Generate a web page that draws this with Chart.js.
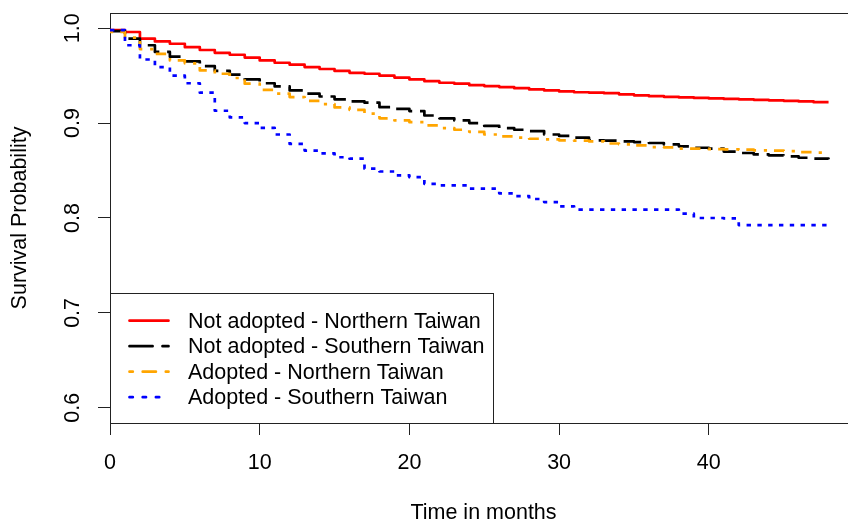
<!DOCTYPE html>
<html><head><meta charset="utf-8">
<script src="https://cdn.jsdelivr.net/npm/chart.js@4"></script>
<style>
html,body{margin:0;padding:0;overflow:hidden;background:#fff;width:848px;height:526px}
#wrap{width:860px;height:526px}
</style></head>
<body><div id="wrap"><canvas id="c" width="860" height="526"></canvas></div>
<script>
const months = [0,1,2,3,4,5,6,7,8,9,10,11,12,13,14,15,16,17,18,19,20,21,22,23,24,25,26,27,28,29,30,31,32,33,34,35,36,37,38,39,40,41,42,43,44,45,46,47,48];
const notAdoptedNorth = [0.998,0.996,0.989,0.986,0.9836,0.980,0.977,0.974,0.972,0.969,0.966,0.9636,0.9615,0.959,0.957,0.955,0.953,0.952,0.950,0.948,0.946,0.9442,0.9425,0.9415,0.940,0.939,0.938,0.9368,0.9355,0.9344,0.9334,0.9325,0.932,0.9315,0.9303,0.9293,0.9284,0.9277,0.927,0.9265,0.926,0.9255,0.925,0.9245,0.924,0.9235,0.9228,0.922,0.922];
const notAdoptedSouth = [0.997,0.989,0.982,0.975,0.970,0.965,0.960,0.955,0.951,0.946,0.942,0.9386,0.9344,0.931,0.928,0.925,0.9228,0.9215,0.9168,0.915,0.9127,0.908,0.905,0.9028,0.900,0.897,0.8947,0.893,0.8916,0.888,0.8865,0.8846,0.8818,0.8815,0.8807,0.880,0.879,0.8775,0.8755,0.874,0.873,0.870,0.8685,0.867,0.866,0.865,0.8635,0.8625,0.862];
const adoptedNorth = [0.996,0.990,0.978,0.973,0.966,0.963,0.9555,0.952,0.9475,0.9415,0.935,0.931,0.9274,0.9235,0.920,0.9165,0.914,0.910,0.905,0.9028,0.901,0.8976,0.8947,0.893,0.8908,0.888,0.886,0.8846,0.8835,0.8828,0.8818,0.8815,0.8807,0.8785,0.8776,0.8765,0.8747,0.8745,0.873,0.873,0.8725,0.8723,0.872,0.8713,0.871,0.8705,0.8695,0.8688,0.8685];
const adoptedSouth = [0.998,0.982,0.967,0.959,0.950,0.942,0.932,0.913,0.906,0.900,0.895,0.888,0.878,0.871,0.868,0.864,0.8625,0.852,0.849,0.845,0.843,0.836,0.8344,0.8344,0.831,0.831,0.826,0.823,0.820,0.8168,0.8123,0.8088,0.8088,0.8088,0.8088,0.8088,0.8088,0.8088,0.8046,0.800,0.800,0.7995,0.7925,0.7925,0.7925,0.7925,0.7925,0.7925,0.7925];
const seriesLabels = ['Not adopted - Northern Taiwan','Not adopted - Southern Taiwan','Adopted - Northern Taiwan','Adopted - Southern Taiwan'];
const xTickValues = [0,10,20,30,40];
const yTickLabels = ['0.6','0.7','0.8','0.9','1.0'];
const xTitle = 'Time in months';
const yTitle = 'Survival Probability';

const FONT = "'Liberation Sans', Arial, sans-serif";
const FS = 21.5;
const seriesValues = [notAdoptedNorth, notAdoptedSouth, adoptedNorth, adoptedSouth];
const seriesColors = ['#FF0000','#000000','#FFA500','#0000FF'];
// dash patterns (solid, long dash, dot-dash, dotted)
const plotDash = [[], [18.2,7.8], [3.2,7.2,10.4,7.8], [4.4,6.4]];
const legendDash = [[], [23.1,9.9], [3.3,9.9,13.2,9.9], [3.3,9.9]];
const LW = 2.7;

const datasets = seriesValues.map((vals, k) => ({
  label: seriesLabels[k],
  data: months.map((m, i) => ({x: m, y: vals[i]})),
  borderColor: seriesColors[k],
  backgroundColor: seriesColors[k],
  borderWidth: LW,
  borderDash: plotDash[k],
  borderCapStyle: 'butt',
  borderJoinStyle: 'round',
  stepped: true,
  pointRadius: 0,
  fill: false,
  order: 4 - k
}));

const frame = {
  id: 'frame',
  afterDraw(chart) {
    const ctx = chart.ctx, a = chart.chartArea;
    ctx.save();
    ctx.strokeStyle = '#222'; ctx.lineWidth = 1;
    ctx.beginPath();
    ctx.moveTo(Math.round(a.left) + 0.5, Math.round(a.top) + 0.5);
    ctx.lineTo(Math.round(a.right) + 0.5, Math.round(a.top) + 0.5);
    ctx.lineTo(Math.round(a.right) + 0.5, Math.round(a.bottom) + 0.5);
    ctx.stroke();
    const ys = chart.scales.y;
    ctx.fillStyle = '#000';
    ctx.font = FS + 'px ' + FONT;
    ctx.textAlign = 'center'; ctx.textBaseline = 'middle';
    yTickLabels.forEach(lbl => {
      const py = ys.getPixelForValue(parseFloat(lbl));
      ctx.save();
      ctx.translate(73, py);
      ctx.rotate(-Math.PI / 2);
      ctx.fillText(lbl, 0, 0);
      ctx.restore();
    });
    const L = a.left, B = a.bottom, W = 383, H = 130, T = B - H;
    ctx.fillStyle = '#fff';
    ctx.fillRect(L + 1, T + 1, W - 1, H - 1);
    ctx.strokeStyle = '#222'; ctx.lineWidth = 1;
    ctx.strokeRect(Math.round(L) + 0.5, Math.round(T) + 0.5, W, H);
    seriesLabels.forEach((lbl, k) => {
      const y = T + 27.7 + k * 25.5;
      ctx.save();
      ctx.strokeStyle = seriesColors[k];
      ctx.lineWidth = LW;
      ctx.lineCap = 'round';
      ctx.setLineDash(legendDash[k]);
      ctx.beginPath();
      ctx.moveTo(L + 19.5, y); ctx.lineTo(L + 58.5, y);
      ctx.stroke();
      ctx.restore();
      ctx.fillStyle = '#000';
      ctx.font = FS + 'px ' + FONT;
      ctx.textAlign = 'left'; ctx.textBaseline = 'middle';
      ctx.fillText(lbl, L + 78, y + 1);
    });
    ctx.restore();
  }
};

new Chart(document.getElementById('c'), {
  type: 'line',
  data: { datasets },
  options: {
    responsive: false,
    animation: false,
    devicePixelRatio: 1,
    layout: { padding: { top: 13, right: 3, bottom: 0, left: 0 } },
    plugins: { legend: { display: false }, tooltip: { enabled: false } },
    scales: {
      x: {
        type: 'linear', position: 'bottom', min: 0, max: 49.9,
        afterBuildTicks: s => { s.ticks = xTickValues.map(v => ({ value: v })); },
        afterFit: s => { s.height = 103; },
        grid: { display: true, drawOnChartArea: false, drawTicks: true, tickLength: 12, color: '#222', lineWidth: 1 },
        border: { display: true, color: '#222', width: 1 },
        ticks: { color: '#000', font: { family: FONT, size: FS }, padding: 15, maxRotation: 0, autoSkip: false },
        title: { display: true, text: xTitle, color: '#000', font: { family: FONT, size: FS }, padding: { top: 0, bottom: 0 } }
      },
      y: {
        type: 'linear', position: 'left', min: 0.584, max: 1.016,
        afterBuildTicks: s => { s.ticks = yTickLabels.map(v => ({ value: parseFloat(v) })); },
        afterFit: s => { s.width = 110; },
        grid: { display: true, drawOnChartArea: false, drawTicks: true, tickLength: 12, color: '#222', lineWidth: 1 },
        border: { display: true, color: '#222', width: 1 },
        ticks: { display: false },
        title: { display: true, text: yTitle, color: '#000', font: { family: FONT, size: FS }, padding: { top: 7, bottom: 0 } }
      }
    }
  },
  plugins: [frame]
});
</script>
</body></html>
